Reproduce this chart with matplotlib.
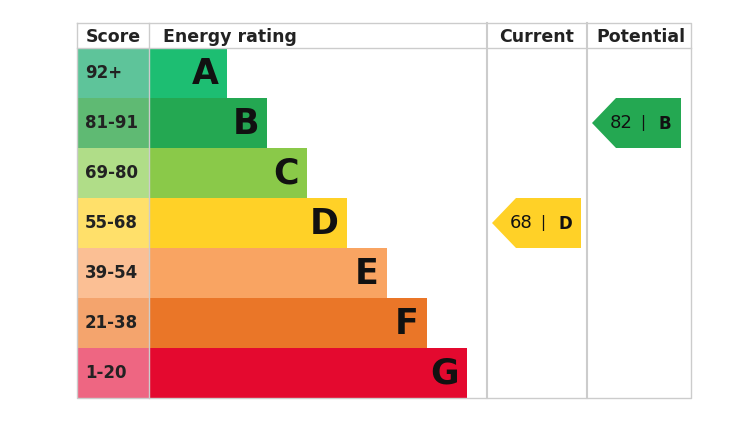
import matplotlib.pyplot as plt
from matplotlib.patches import Rectangle, Polygon

letters = ["A", "B", "C", "D", "E", "F", "G"]
scores = ["92+", "81-91", "69-80", "55-68", "39-54", "21-38", "1-20"]
lows = [92, 81, 69, 55, 39, 21, 1]
bar_colors = ["#1dbe72", "#24a852", "#8ac949", "#ffd127", "#f9a462", "#ea7628", "#e4092f"]
cell_colors = ["#5ec49a", "#5fba73", "#b0dd88", "#ffe06a", "#fbbf94", "#f4a46d", "#ee6682"]
current = 68
potential = 82

def band(v):
    for i, lo in enumerate(lows):
        if v >= lo:
            return i
    return len(lows) - 1

fig = plt.figure(figsize=(7.37, 4.32), dpi=100)
ax = fig.add_axes([0, 0, 1, 1])
ax.set_xlim(0, 737)
ax.set_ylim(432, 0)
ax.axis("off")

left, right, top, head, rowh = 77, 691, 23, 48, 50
bottom = head + rowh * len(letters)
grey = "#cccccc"

for i, (l, s) in enumerate(zip(letters, scores)):
    y = head + i * rowh
    ax.add_patch(Rectangle((left, y), 72, rowh, color=cell_colors[i], lw=0))
    ax.text(85, y + rowh / 2, s, fontsize=12, fontweight="bold", va="center", color="#222")
    w = 78 + 40 * i
    ax.add_patch(Rectangle((149, y), w, rowh, color=bar_colors[i], lw=0))
    ax.text(149 + w - 8, y + rowh / 2 + 1, l, fontsize=25, fontweight="bold",
            ha="right", va="center", color="#111")

# frame and column lines
ax.plot([left, right, right, left, left], [top, top, bottom, bottom, top], color=grey, lw=1)
ax.plot([left, right], [head, head], color=grey, lw=1)
for x in [149, 487, 587]:
    ax.plot([x, x], [top, bottom], color=grey, lw=1.5 if x > 149 else 1)

hy = (top + head) / 2 + 1
ax.text(113, hy, "Score", fontsize=12.5, fontweight="bold", ha="center", va="center", color="#222")
ax.text(163, hy, "Energy rating", fontsize=12.5, fontweight="bold", va="center", color="#222")
ax.text(537, hy, "Current", fontsize=12.5, fontweight="bold", ha="center", va="center", color="#222")
ax.text(641, hy, "Potential", fontsize=12.5, fontweight="bold", ha="center", va="center", color="#222")

def arrow(x0, value):
    i = band(value)
    y = head + i * rowh
    pts = [(x0, y + rowh / 2), (x0 + 24, y), (x0 + 89, y), (x0 + 89, y + rowh), (x0 + 24, y + rowh)]
    ax.add_patch(Polygon(pts, closed=True, color=bar_colors[i], lw=0))
    ax.text(x0 + 18, y + rowh / 2, f"{value}", fontsize=13, va="center", color="#111")
    ax.text(x0 + 51, y + rowh / 2, "|", fontsize=11, va="center", ha="center", color="#111")
    ax.text(x0 + 67, y + rowh / 2 + 1, letters[i], fontsize=12, fontweight="bold", va="center", color="#111")

arrow(492, current)
arrow(592, potential)

fig.savefig("out.png", dpi=100)
